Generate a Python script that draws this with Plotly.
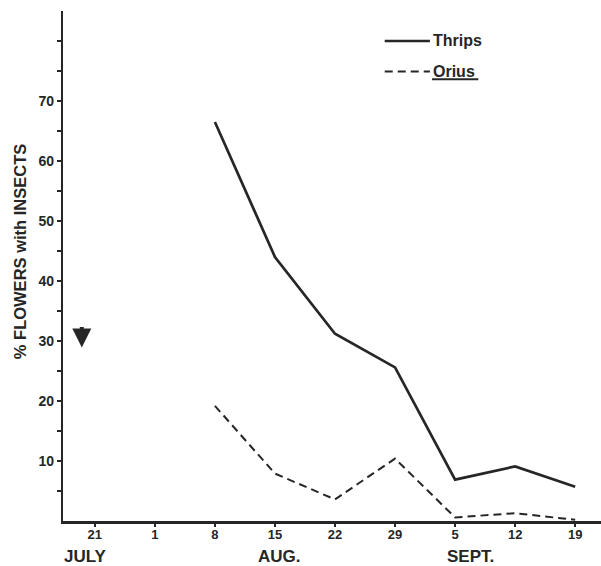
import plotly.graph_objects as go

# Weekly sampling dates (equally spaced on the axis)
date_labels = ["21", "1", "8", "15", "22", "29", "5", "12", "19"]
date_pos = list(range(len(date_labels)))

# Percentage of flowers with insects, sampled from Aug. 8 onward
sample_pos = [2, 3, 4, 5, 6, 7, 8]
thrips = [66.5, 44.0, 31.2, 25.6, 6.9, 9.1, 5.7]
orius = [19.2, 7.9, 3.6, 10.4, 0.6, 1.3, 0.2]

# Month captions and where they sit along the date axis
months = ["JULY", "AUG.", "SEPT."]
month_pos = [-0.15, 3.07, 6.25]

y_ticks = [5, 10, 15, 20, 25, 30, 35, 40, 45, 50, 55, 60, 65, 70, 75, 80]
y_labels = [f"<b>{v}</b>" if v % 10 == 0 and v <= 70 else "" for v in y_ticks]

INK = "#262626"
FONT = "Liberation Sans, Arial, sans-serif"
DASH = "8px,5px"

fig = go.Figure()
fig.add_trace(go.Scatter(
    x=sample_pos, y=thrips, mode="lines", name="Thrips",
    line=dict(color=INK, width=2.7),
))
fig.add_trace(go.Scatter(
    x=sample_pos, y=orius, mode="lines", name="Orius",
    line=dict(color=INK, width=2, dash=DASH),
))

# Key: short line samples with bold labels
key_x0, key_x1 = 0.598, 0.682
key_rows = [("Thrips", 0.9412, "solid", 2.6, False),
            ("Orius", 0.8815, DASH, 2, True)]
for label, ky, dash, w, underline in key_rows:
    fig.add_shape(type="line", xref="paper", yref="paper",
                  x0=key_x0, x1=key_x1, y0=ky, y1=ky,
                  line=dict(color=INK, width=w, dash=dash))
    fig.add_annotation(x=key_x1, y=ky, xref="paper", yref="paper",
                       xanchor="left", yanchor="middle", xshift=1,
                       text=f"<b>{label}</b>", showarrow=False,
                       font=dict(family=FONT, size=16, color=INK))
    if underline:
        fig.add_shape(type="line", xref="paper", yref="paper",
                      x0=key_x1 + 0.004, x1=key_x1 + 0.09,
                      y0=ky - 0.0155, y1=ky - 0.0155,
                      line=dict(color=INK, width=2))

# Month captions below the date ticks
for m, p in zip(months, month_pos):
    fig.add_annotation(
        x=p, y=0, xref="x", yref="paper", yanchor="middle", yshift=-35,
        text=f"<b>{m}</b>", showarrow=False,
        font=dict(family=FONT, size=17, color=INK),
    )

# Vertical axis title
fig.add_annotation(
    x=0, xref="paper", xanchor="center", xshift=-43, y=44.8, yref="y",
    text="<b>% FLOWERS with INSECTS</b>", textangle=-90, showarrow=False,
    font=dict(family=FONT, size=16.5, color=INK),
)

# Downward arrow marker near the start of the record
fig.add_annotation(
    x=-0.217, y=28.9, xref="x", yref="y", ax=0, ay=-22,
    showarrow=True, arrowhead=2, arrowsize=0.95, arrowwidth=4,
    arrowcolor=INK, text="",
)

fig.update_xaxes(
    range=[-0.53, 8.43], tickvals=date_pos,
    ticktext=[f"<b>{t}</b>" for t in date_labels],
    showline=True, linecolor=INK, linewidth=2.5,
    ticks="outside", ticklen=3, tickwidth=1.5, tickcolor=INK,
    ticklabelstandoff=-3,
    showgrid=False, zeroline=False,
    tickfont=dict(family=FONT, size=13, color=INK),
)
fig.update_yaxes(
    range=[0, 85], tickvals=y_ticks, ticktext=y_labels,
    showline=True, linecolor=INK, linewidth=2.2,
    ticks="outside", ticklen=4, tickwidth=1.5, tickcolor=INK,
    showgrid=False, zeroline=False,
    tickfont=dict(family=FONT, size=14, color=INK),
)

fig.update_layout(
    width=601, height=566,
    margin=dict(l=63, r=0, t=11, b=45),
    paper_bgcolor="white", plot_bgcolor="white",
    font=dict(family=FONT, color=INK),
    showlegend=False,
)

fig.write_html("out.html")
